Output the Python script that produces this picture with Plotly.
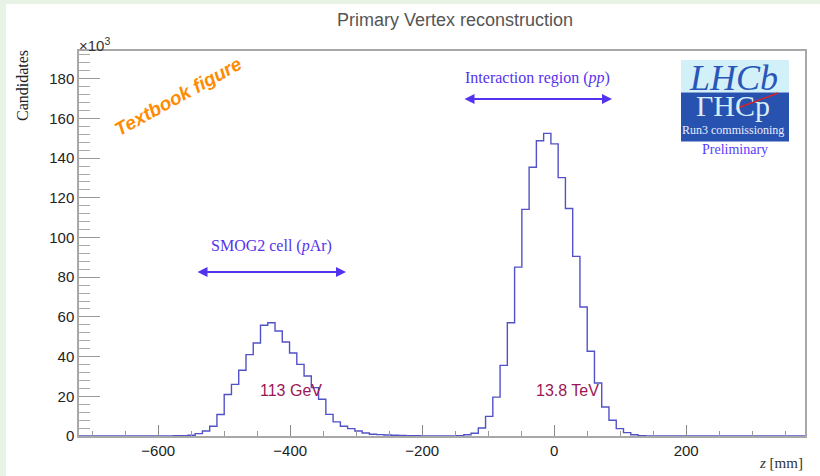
import plotly.graph_objects as go

# ---- data (counts in units of 10^3), 100 bins of 11 mm from -720 to 380 mm ----
z_min = -720
z_max = 380
bin_width = 11
counts = [
    0, 0, 0, 0, 0, 0, 0, 0, 0, 0,
    0, 0, 0, 0.1, 0.2, 0.4, 1.2, 2.5, 4.9, 10.8,
    20.9, 26.0, 33.1, 41.0, 46.9, 55.8, 57.1, 52.9, 47.4, 41.8,
    36.1, 30.2, 24.4, 18.5, 10.9, 7.1, 4.9, 3.7, 2.5, 1.5,
    0.9, 0.7, 0.5, 0.4, 0.3, 0.2, 0.1, 0.05, 0, 0,
    0, 0.05, 0.2, 0.6, 1.4, 4.0, 9.9, 19.6, 35.6, 57.1,
    85.1, 114.2, 135.4, 148.8, 152.5, 147.2, 130.2, 114.6, 90.5, 65.0,
    42.7, 26.7, 14.6, 7.9, 3.7, 1.7, 0.6, 0.2, 0, 0,
    0, 0, 0, 0, 0, 0, 0, 0, 0, 0,
    0, 0, 0, 0, 0, 0, 0, 0, 0, 0,
]
x_ticks = [-600, -400, -200, 0, 200]
x_tick_labels = ["\u2212600", "\u2212400", "\u2212200", "0", "200"]
y_ticks = [0, 20, 40, 60, 80, 100, 120, 140, 160, 180]
y_max = 194

edges = [z_min + bin_width * i for i in range(len(counts) + 1)]
step_y = counts + [counts[-1]]

# ---- geometry helpers ----
W, H = 820, 476
ML, MR, MT, MB = 79, 15, 51, 40
PW, PH = W - ML - MR, H - MT - MB


def px(x):
    return (x - ML) / PW


def py(y):
    return (H - MB - y) / PH


fig = go.Figure()
fig.add_trace(go.Scatter(
    x=edges, y=step_y, mode="lines", line=dict(color="#5252c8", width=1.4, shape="hv"),
    hoverinfo="skip", showlegend=False,
))

axis_col = "#a8a8a8"
sans = "Liberation Sans, Arial, sans-serif"
serif = "Liberation Serif, Times New Roman, serif"
tick_font = dict(family=sans, size=15, color="#222222")

fig.update_xaxes(
    range=[z_min, z_max], tickvals=x_ticks, ticktext=x_tick_labels,
    ticks="inside", ticklen=11, tickwidth=1, tickcolor="#888888",
    minor=dict(dtick=50, tick0=0, ticks="inside", ticklen=5, tickcolor="#999999", showgrid=False),
    showline=True, linecolor=axis_col, linewidth=1.5, mirror=True,
    showgrid=False, zeroline=False, tickfont=tick_font,
)
fig.update_yaxes(
    range=[0, y_max], tickvals=y_ticks,
    ticks="inside", ticklen=21, tickwidth=1, tickcolor="#999999",
    minor=dict(dtick=4, tick0=0, ticks="inside", ticklen=11, tickcolor="#aaaaaa", showgrid=False),
    showline=True, linecolor=axis_col, linewidth=1.5, mirror=True,
    showgrid=False, zeroline=False, tickfont=tick_font,
)

shapes = [
    # light green page border
    dict(type="rect", xref="paper", yref="paper", x0=px(0), x1=px(6), y0=py(H), y1=py(0),
         fillcolor="#e8f2e5", line=dict(width=0), layer="below"),
    dict(type="rect", xref="paper", yref="paper", x0=px(0), x1=px(W), y0=py(4), y1=py(0),
         fillcolor="#e8f2e5", line=dict(width=0), layer="below"),
    # LHCb logo
    dict(type="rect", xref="paper", yref="paper", x0=px(681), x1=px(789), y0=py(92.5), y1=py(60),
         fillcolor="#d2f0f8", line=dict(width=0)),
    dict(type="rect", xref="paper", yref="paper", x0=px(681), x1=px(789), y0=py(141.5), y1=py(92.5),
         fillcolor="#2852b0", line=dict(width=0)),
    dict(type="line", xref="paper", yref="paper", x0=px(735), y0=py(109), x1=px(778), y1=py(93),
         line=dict(color="#e02020", width=1.5)),
]

blue = "#5533ee"


def label(text, x, y, size, color, family=sans, angle=0, xa="center", ya="middle", ys=0):
    return dict(text=text, xref="paper", yref="paper", x=px(x), y=py(y), xanchor=xa, yanchor=ya,
                textangle=angle, showarrow=False, yshift=ys,
                font=dict(family=family, size=size, color=color))


annotations = [
    label("Primary Vertex reconstruction", 455, 20, 18, "#555555"),
    label("\u00d710<sup>3</sup>", 77, 44, 15, "#333333", xa="left"),
    label("Candidates", 22, 86, 16, "#222222", family=serif, angle=-90),
    label("<i>z</i> [mm]", 805, 463, 15, "#333333", family=serif, xa="right"),
    label("<b><i>Textbook figure</i></b>", 178, 96, 19, "#ff8c00", angle=-29),
    label("Interaction region (<i>pp</i>)", 537, 78, 16, blue, family=serif),
    label("SMOG2 cell (<i>p</i>Ar)", 271, 246, 16, blue, family=serif),
    label("113 GeV", 291, 390, 16, "#9b1656"),
    label("13.8 TeV", 567, 390, 16, "#9b1656"),
    # LHCb logo texts
    label("<i>LHCb</i>", 733, 93, 36, "#2a56b8", family=serif, ya="bottom", ys=-7),
    label("\u0393HCp", 733, 92, 30, "#d6eef8", family=serif, ya="top", ys=5),
    label("Run3 commissioning", 733, 130, 12, "#e8eeff", family=serif),
    label("Preliminary", 735, 149, 14, "#5a3cff", family=serif),
    # double arrows
    dict(xref="paper", yref="paper", x=px(612), y=py(99), ax=-149, ay=0,
         text="", showarrow=True, arrowhead=2, startarrowhead=2, arrowside="end+start",
         arrowsize=1, arrowwidth=2, arrowcolor=blue),
    dict(xref="paper", yref="paper", x=px(346), y=py(272), ax=-150, ay=0,
         text="", showarrow=True, arrowhead=2, startarrowhead=2, arrowside="end+start",
         arrowsize=1, arrowwidth=2, arrowcolor=blue),
]

fig.update_layout(
    width=W, height=H, margin=dict(l=ML, r=MR, t=MT, b=MB),
    paper_bgcolor="white", plot_bgcolor="white",
    shapes=shapes, annotations=annotations, showlegend=False,
)

fig.write_html("out.html", config={"displayModeBar": False},
               post_script="document.body.style.margin='0';")
